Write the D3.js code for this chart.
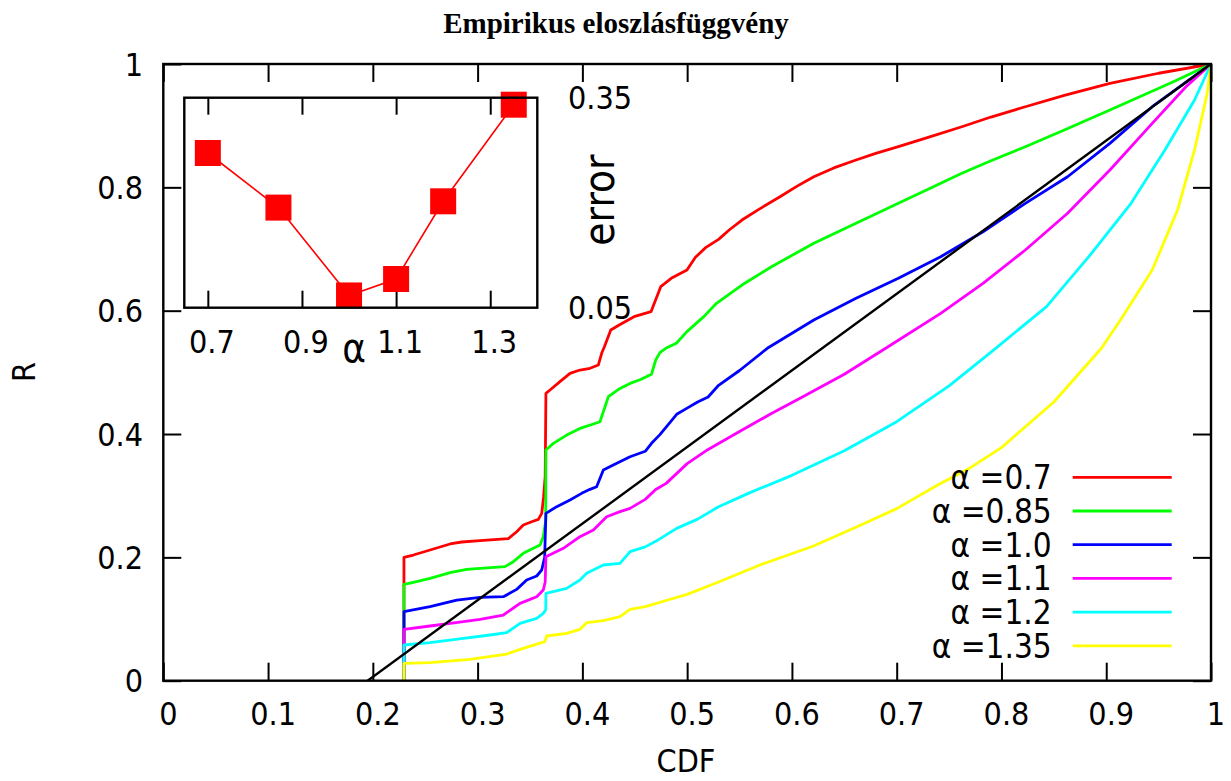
<!DOCTYPE html>
<html>
<head>
<meta charset="utf-8">
<script src="https://cdn.jsdelivr.net/npm/d3@7"></script>
<style>
  html, body { margin: 0; padding: 0; background: #fff; }
  svg { display: block; }
  .lbl { font-family: 'DejaVu Sans Condensed', 'DejaVu Sans', sans-serif; font-stretch: condensed; fill: #000; }
</style>
</head>
<body>
<svg id="chart" width="1231" height="781"></svg>
<script>
// Empirical distribution curves R(CDF) for several alpha values
const seriesNames = ["α =0.7", "α =0.85", "α =1.0", "α =1.1", "α =1.2", "α =1.35"];
const seriesColors = ["#ff0000", "#00ff00", "#0000ff", "#ff00ff", "#00ffff", "#ffff00"];

const curveA07 = [[0.2297,0],[0.2297,0.200],[0.2387,0.2038],[0.2546,0.2119],[0.2737,0.2217],[0.2848,0.2249],[0.3023,0.2270],[0.3293,0.2303],[0.3373,0.2416],[0.3436,0.2524],[0.3516,0.2578],[0.3580,0.2617],[0.3612,0.2714],[0.3630,0.2984],[0.3645,0.3308],[0.3652,0.466],[0.3691,0.4714],[0.3786,0.4849],[0.3882,0.4984],[0.3977,0.5038],[0.4073,0.5066],[0.4152,0.5119],[0.4184,0.5309],[0.421,0.5416],[0.4271,0.5687],[0.4351,0.5768],[0.4493,0.5903],[0.4655,0.5984],[0.4748,0.6389],[0.4857,0.6535],[0.4998,0.666],[0.5079,0.6865],[0.518,0.7027],[0.530,0.7157],[0.5401,0.7308],[0.5523,0.747],[0.5684,0.7643],[0.5886,0.7848],[0.605,0.802],[0.6209,0.8172],[0.64,0.8315],[0.6612,0.8443],[0.68,0.855],[0.7016,0.8659],[0.73,0.881],[0.7622,0.8983],[0.79,0.914],[0.8228,0.9307],[0.86,0.949],[0.9035,0.9687],[0.95,0.985],[1,1]];
const curveA085 = [[0.2297,0],[0.2297,0.1563],[0.2387,0.1596],[0.2546,0.1660],[0.2737,0.1752],[0.2896,0.1806],[0.3023,0.1822],[0.3261,0.1849],[0.3341,0.1930],[0.3436,0.2065],[0.3532,0.2146],[0.3596,0.2200],[0.3627,0.2335],[0.3650,0.2600],[0.3652,0.374],[0.3723,0.3848],[0.385,0.3983],[0.3977,0.4091],[0.4105,0.4162],[0.4168,0.4199],[0.4248,0.4605],[0.4359,0.4740],[0.4455,0.4821],[0.455,0.488],[0.466,0.497],[0.470,0.520],[0.474,0.532],[0.4796,0.539],[0.4897,0.5471],[0.4998,0.566],[0.5159,0.5903],[0.528,0.612],[0.5523,0.6416],[0.5805,0.6713],[0.6209,0.7093],[0.6612,0.7417],[0.7016,0.7741],[0.73,0.797],[0.7622,0.8228],[0.79,0.843],[0.8228,0.8659],[0.86,0.893],[0.9035,0.9254],[0.9641,0.9713],[1,1]];
const curveA10 = [[0.2297,0],[0.2297,0.1119],[0.2546,0.12],[0.2801,0.1308],[0.3023,0.1352],[0.3246,0.1362],[0.3373,0.1481],[0.3468,0.1633],[0.3564,0.1698],[0.3612,0.1795],[0.3640,0.2],[0.3652,0.2714],[0.3755,0.2822],[0.3882,0.2930],[0.3993,0.3038],[0.4073,0.3103],[0.4136,0.3146],[0.4200,0.3416],[0.4295,0.3497],[0.4455,0.3632],[0.46,0.372],[0.466,0.385],[0.474,0.399],[0.49,0.432],[0.5,0.442],[0.51,0.452],[0.52,0.46],[0.53,0.479],[0.55,0.503],[0.5765,0.539],[0.6209,0.5849],[0.6612,0.62],[0.7016,0.6525],[0.742,0.6875],[0.7824,0.728],[0.8228,0.7741],[0.8631,0.8172],[0.9035,0.8713],[0.9439,0.9307],[1,1]];
const curveA11 = [[0.2297,0],[0.2297,0.0833],[0.2546,0.0887],[0.2864,0.0957],[0.3023,0.0995],[0.3246,0.1065],[0.3405,0.1254],[0.3564,0.1362],[0.3627,0.1470],[0.3645,0.16],[0.3652,0.201],[0.3818,0.2146],[0.3977,0.2335],[0.4105,0.2443],[0.4232,0.2659],[0.4359,0.2741],[0.4455,0.2795],[0.46,0.294],[0.47,0.31],[0.48,0.32],[0.5,0.352],[0.52,0.375],[0.55,0.404],[0.58,0.433],[0.61,0.46],[0.65,0.497],[0.6895,0.539],[0.742,0.5957],[0.7824,0.6444],[0.8228,0.6984],[0.8631,0.7579],[0.9035,0.8281],[0.9439,0.9038],[0.9761,0.9632],[1,1]];
const curveA12 = [[0.2297,0],[0.2297,0.0579],[0.2546,0.0617],[0.2864,0.0687],[0.3118,0.0741],[0.3277,0.0779],[0.3405,0.0930],[0.3564,0.1011],[0.3627,0.1092],[0.3650,0.115],[0.3652,0.1416],[0.385,0.1498],[0.3977,0.1633],[0.4041,0.1741],[0.42,0.1876],[0.4359,0.1903],[0.4455,0.2092],[0.46,0.217],[0.47,0.226],[0.49,0.247],[0.51,0.262],[0.53,0.282],[0.56,0.305],[0.6,0.333],[0.65,0.373],[0.7,0.42],[0.75,0.478],[0.7945,0.539],[0.843,0.6065],[0.8834,0.6875],[0.9237,0.7741],[0.956,0.8606],[0.9843,0.9416],[1,1]];
const curveA135 = [[0.2297,0],[0.2297,0.0281],[0.2546,0.0292],[0.2928,0.0346],[0.3277,0.0432],[0.3436,0.0524],[0.3564,0.0594],[0.3643,0.0633],[0.3659,0.0725],[0.385,0.0768],[0.3977,0.0833],[0.4041,0.0941],[0.42,0.0973],[0.4359,0.1038],[0.4455,0.1157],[0.46,0.12],[0.48,0.13],[0.5,0.14],[0.53,0.16],[0.57,0.188],[0.62,0.218],[0.66,0.248],[0.70,0.279],[0.74,0.318],[0.77,0.345],[0.80,0.378],[0.85,0.452],[0.8954,0.539],[0.9156,0.5903],[0.9439,0.666],[0.9681,0.7633],[0.9843,0.8606],[0.9964,0.9525],[1,1]];
const curves = [curveA07, curveA085, curveA10, curveA11, curveA12, curveA135];

// Reference straight line
const refLine = [[0.195, 0], [1, 1]];

// Inset: error versus alpha
const insetAlpha = [0.7, 0.85, 1.0, 1.1, 1.2, 1.35];
const insetError = [0.271, 0.193, 0.0675, 0.091, 0.202, 0.340];

// Tick values
const xTicks = [0, 0.1, 0.2, 0.3, 0.4, 0.5, 0.6, 0.7, 0.8, 0.9, 1];
const yTicks = [0, 0.2, 0.4, 0.6, 0.8, 1];
const insetXTicks = [0.7, 0.9, 1.1, 1.3];
const insetYTicks = [0.05, 0.35];

const svg = d3.select("#chart");
const fmt = d => String(d);

// Main plot frame
const L = 163.3, R = 1211, T = 64, B = 680.7;
const x = d3.scaleLinear().domain([0, 1]).range([L, R]);
const y = d3.scaleLinear().domain([0, 1]).range([B, T]);
const tickLen = 18;
const FS = 32;

svg.append("defs").append("clipPath").attr("id", "plotClip")
  .append("rect").attr("x", L).attr("y", T).attr("width", R - L).attr("height", B - T);

// Title
svg.append("text").attr("x", 616).attr("y", 33).attr("text-anchor", "middle")
  .attr("font-family", "'Liberation Serif', 'Times New Roman', serif")
  .attr("font-weight", "bold").attr("font-size", 29).text("Empirikus eloszlásfüggvény");

// Axes with inward ticks on all four sides
const axisStyle = g => {
  g.select(".domain").remove();
  g.selectAll(".tick line").attr("stroke", "#000").attr("stroke-width", 2);
};
svg.append("g").attr("transform", `translate(0,${B})`)
  .call(d3.axisBottom(x).tickValues(xTicks).tickSize(-tickLen).tickFormat(""))
  .call(axisStyle);
svg.append("g").attr("transform", `translate(0,${T})`)
  .call(d3.axisTop(x).tickValues(xTicks).tickSize(-tickLen).tickFormat(""))
  .call(axisStyle);
svg.append("g").attr("transform", `translate(${L},0)`)
  .call(d3.axisLeft(y).tickValues(yTicks).tickSize(-tickLen).tickFormat(""))
  .call(axisStyle);
svg.append("g").attr("transform", `translate(${R},0)`)
  .call(d3.axisRight(y).tickValues(yTicks).tickSize(-tickLen).tickFormat(""))
  .call(axisStyle);

// Tick labels
svg.append("g").selectAll("text").data(xTicks).join("text")
  .attr("class", "lbl").attr("font-size", FS).attr("text-anchor", "middle")
  .attr("x", d => x(d) + 5).attr("y", 725).text(fmt);
svg.append("g").selectAll("text").data(yTicks).join("text")
  .attr("class", "lbl").attr("font-size", FS).attr("text-anchor", "end")
  .attr("x", 143).attr("y", d => y(d)).attr("dy", "0.36em").text(fmt);

// Axis titles
svg.append("text").attr("class", "lbl").attr("font-size", FS).attr("text-anchor", "middle")
  .attr("x", 686).attr("y", 772).text("CDF");
svg.append("text").attr("class", "lbl").attr("font-size", FS).attr("text-anchor", "middle")
  .attr("transform", "translate(35,372) rotate(-90)").text("R");

// Curves
const line = d3.line().x(d => x(d[0])).y(d => y(d[1]));
const plot = svg.append("g").attr("clip-path", "url(#plotClip)");
plot.selectAll("path.curve").data(curves).join("path").attr("class", "curve")
  .attr("d", line).attr("fill", "none")
  .attr("stroke", (d, i) => seriesColors[i]).attr("stroke-width", 2.8)
  .attr("stroke-linejoin", "round");
plot.append("path").datum(refLine).attr("d", line).attr("fill", "none")
  .attr("stroke", "#000").attr("stroke-width", 2.4);

// Legend
const legX = 1051.7, legY0 = 477.3, legDy = 33.7;
const leg = svg.append("g");
seriesNames.forEach((name, i) => {
  const yy = legY0 + i * legDy;
  leg.append("text").attr("class", "lbl").attr("font-size", 33).attr("text-anchor", "end")
    .attr("x", legX).attr("y", yy).attr("dy", "0.36em").text(name);
  leg.append("line").attr("x1", 1072.7).attr("x2", 1171.7).attr("y1", yy).attr("y2", yy)
    .attr("stroke", seriesColors[i]).attr("stroke-width", 2.8);
});

// Frame
svg.append("rect").attr("x", L).attr("y", T).attr("width", R - L).attr("height", B - T)
  .attr("fill", "none").attr("stroke", "#000").attr("stroke-width", 2.4);

// Inset
const iL = 184.3, iR = 537.3, iT = 97.7, iB = 307.7;
const ix = d3.scaleLinear().domain([0.65, 1.4]).range([iL, iR]);
const iy = d3.scaleLinear().domain([0.05, 0.35]).range([iB, iT]);
const inset = svg.append("g");
inset.append("rect").attr("x", iL).attr("y", iT).attr("width", iR - iL).attr("height", iB - iT)
  .attr("fill", "#fff");
inset.append("g").attr("transform", `translate(0,${iB})`)
  .call(d3.axisBottom(ix).tickValues(insetXTicks).tickSize(-17).tickFormat(""))
  .call(axisStyle);
inset.append("g").attr("transform", `translate(0,${iT})`)
  .call(d3.axisTop(ix).tickValues(insetXTicks).tickSize(-17).tickFormat(""))
  .call(axisStyle);
inset.append("g").selectAll("text").data(insetXTicks).join("text")
  .attr("class", "lbl").attr("font-size", FS).attr("text-anchor", "middle")
  .attr("x", d => ix(d) + 4).attr("y", 353).text(d => String(d));
inset.append("g").selectAll("text").data(insetYTicks).join("text")
  .attr("class", "lbl").attr("font-size", FS).attr("text-anchor", "start")
  .attr("x", 568).attr("y", d => iy(d)).attr("dy", "0.36em").text(d => String(d));
inset.append("text").attr("class", "lbl").attr("font-size", 40).attr("text-anchor", "middle")
  .attr("x", 354).attr("y", 362).text("α");
inset.append("text").attr("class", "lbl").attr("font-size", 42).attr("text-anchor", "middle")
  .attr("transform", "translate(614,200) rotate(-90)").text("error");

const insetPts = insetAlpha.map((a, i) => [a, insetError[i]]);
inset.append("path").datum(insetPts)
  .attr("d", d3.line().x(d => ix(d[0])).y(d => iy(d[1])))
  .attr("fill", "none").attr("stroke", "#ff0000").attr("stroke-width", 1.6);
const sq = 26;
inset.selectAll("rect.pt").data(insetPts).join("rect").attr("class", "pt")
  .attr("x", d => ix(d[0]) - sq / 2).attr("y", d => iy(d[1]) - sq / 2)
  .attr("width", sq).attr("height", sq).attr("fill", "#ff0000");
inset.append("rect").attr("x", iL).attr("y", iT).attr("width", iR - iL).attr("height", iB - iT)
  .attr("fill", "none").attr("stroke", "#000").attr("stroke-width", 2.4);
</script>
</body>
</html>
